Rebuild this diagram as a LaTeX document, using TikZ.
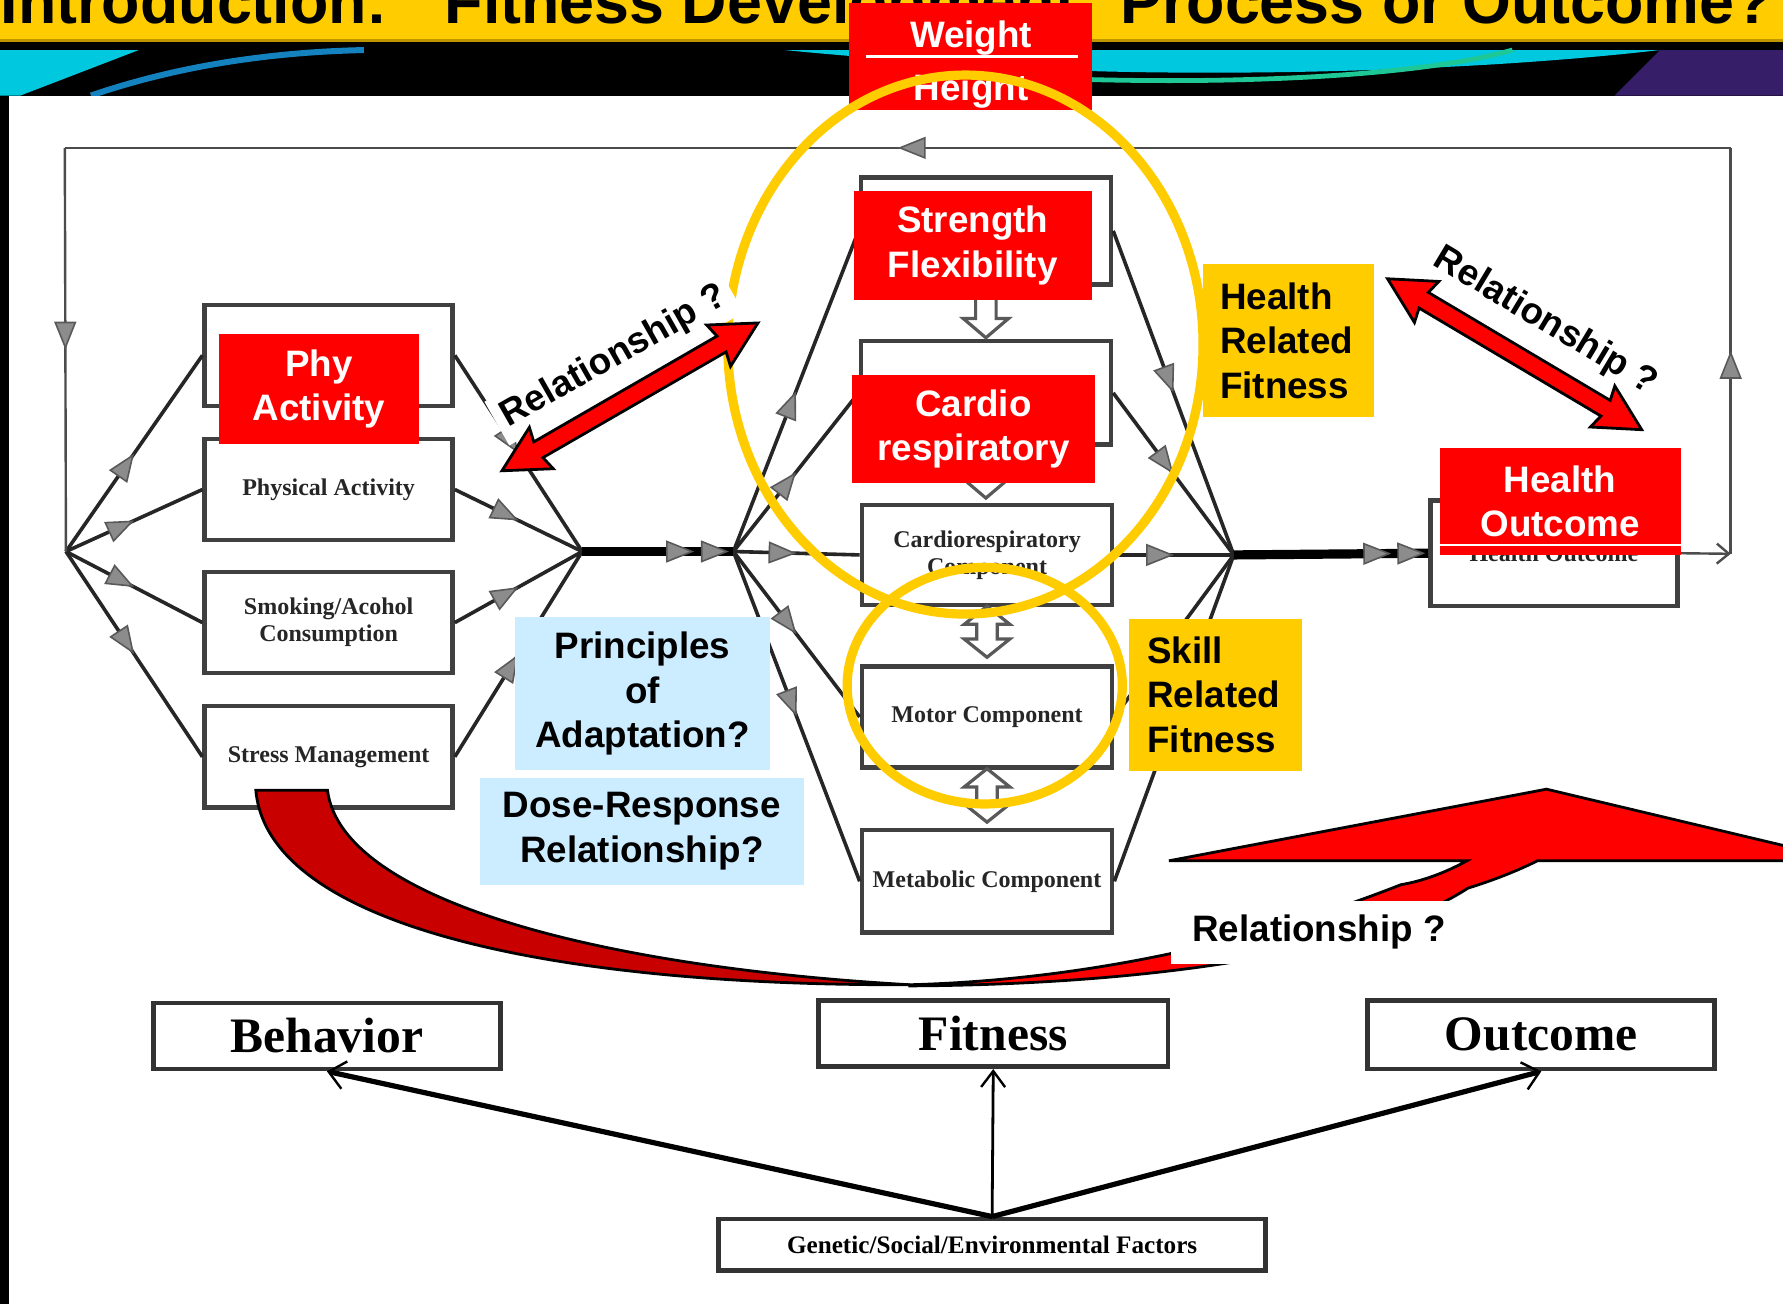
\documentclass[tikz,border=0pt]{standalone}
\usepackage{fontspec}
\setmainfont{Liberation Serif}
\setsansfont{Liberation Sans}
\usetikzlibrary{arrows.meta,decorations.markings}

\definecolor{pptred}{RGB}{255,0,0}
\definecolor{darkred}{RGB}{200,0,0}
\definecolor{pptyellow}{RGB}{255,204,0}
\definecolor{pptblue}{RGB}{204,236,255}
\definecolor{bgcyan}{RGB}{0,200,222}
\definecolor{bgteal}{RGB}{20,130,190}
\definecolor{bggreen}{RGB}{30,200,150}
\definecolor{bgpurple}{RGB}{55,30,105}
\definecolor{bandline}{RGB}{190,150,0}

% hollow block arrows between the fitness components
\newcommand{\hollowdown}[3]{%
  \draw[hollow] (#1-9,#2) -- (#1+9,#2) -- (#1+9,#3-17) -- (#1+20,#3-17) -- (#1,#3)
    -- (#1-20,#3-17) -- (#1-9,#3-17) -- cycle;}
\newcommand{\hollowboth}[3]{%
  \draw[hollow] (#1,#2) -- (#1+20,#2+16) -- (#1+9,#2+16) -- (#1+9,#3-16) -- (#1+20,#3-16)
    -- (#1,#3) -- (#1-20,#3-16) -- (#1-9,#3-16) -- (#1-9,#2+16) -- (#1-20,#2+16) -- cycle;}
% red double block arrow: centre x, centre y, angle
\newcommand{\blockarrow}[3]{%
  \begin{scope}[shift={(#1,#2)}, rotate=#3]
    \draw[fill=pptred, line width=0.7pt, line join=miter]
      (-130,0) -- (-90,-21) -- (-93,-8) -- (93,-8) -- (90,-21) -- (130,0)
      -- (90,21) -- (93,8) -- (-93,8) -- (-90,21) -- cycle;
  \end{scope}}

\begin{document}
\begin{tikzpicture}[x=0.01cm, y=-0.01cm,
    lbl/.style={font=\sffamily\bfseries\fontsize{9.2}{11.1}\selectfont, align=center, inner sep=0pt},
    redlbl/.style={lbl, fill=pptred, text=white},
    yellbl/.style={lbl, fill=pptyellow, align=left},
    bluelbl/.style={lbl, fill=pptblue},
    scanbox/.style={draw=black!75, line width=1.1pt, fill=white, text=black!85, align=center,
      inner sep=0pt, font=\bfseries\fontsize{6}{6.8}\selectfont,
      minimum width=2.18cm, minimum height=0.89cm},
    bigbox/.style={draw=black!80, line width=1.2pt, fill=white, inner sep=0pt,
      font=\bfseries\fontsize{12.4}{14}\selectfont, minimum width=3.05cm, minimum height=0.58cm},
    link/.style={line width=0.9pt, black!85},
    trunk/.style={line width=2.3pt, black},
    loopline/.style={line width=0.6pt, black!70},
    hollow/.style={fill=white, draw=black!65, line width=0.8pt},
    ring/.style={draw=pptyellow, line width=2.3pt},
    graytip/.tip={Triangle[length=7pt, width=5.5pt, fill=black!45, color=black!65, line width=0.4pt]},
    midtip/.style={postaction={decorate, decoration={markings,
      mark=at position #1 with {\arrow{graytip}}}}},
    twotips/.style 2 args={postaction={decorate, decoration={markings,
      mark=at position #1 with {\arrow{graytip}},
      mark=at position #2 with {\arrow{graytip}}}}},
  ]
  \useasboundingbox (0,0) rectangle (1568,1147);
  \clip (0,0) rectangle (1568,1147);

  % Slide background
  \fill[pptyellow] (0,0) rectangle (1568,36);
  \fill[bandline] (0,34) rectangle (1568,37);
  \fill[black] (0,37) rectangle (1568,84);
  \fill[bgpurple] (1460,44) -- (1568,44) -- (1568,84) -- (1420,84) -- cycle;
  \fill[bgcyan] (0,44) -- (122,44) -- (18,84) -- (0,84) -- cycle;
  \draw[bgteal, line width=1.5pt] (80,84) .. controls (150,60) and (230,46) .. (320,44);
  \fill[bgcyan] (690,44) -- (1460,44) .. controls (1250,68) and (1000,66) .. (900,60)
    .. controls (800,54) and (730,48) .. (690,44) -- cycle;
  \draw[bggreen, line width=1.2pt] (960,70) .. controls (1120,74) and (1260,64) .. (1330,44);
  \fill[black] (0,84) rectangle (8,1147);
  \fill[white] (8,84) rectangle (1568,1147);

  % Title
  \node[font=\sffamily\bfseries\fontsize{15.7}{18}\selectfont, anchor=base west, inner sep=0pt]
    (title) at (0,21) {Introduction:\hspace{0.5cm}Fitness Development: Process or Outcome?};

  % Junctions
  \coordinate (fan) at (58,485);
  \coordinate (jA) at (512,485);
  \coordinate (jB) at (645,485);
  \coordinate (jC) at (1085,488);
  \coordinate (rb) at (1522,487);
  \coordinate (rt) at (1522,130);
  \coordinate (lt) at (57,130);

  % Scanned model boxes
  \node[scanbox] (blank) at (289,312.5) {};
  \node[scanbox] (physical) at (289,430.5) {Physical Activity};
  \node[scanbox] (smoking) at (289,547.5) {Smoking/Acohol\\Consumption};
  \node[scanbox] (stress) at (289,665.5) {Stress Management};
  \node[scanbox, minimum width=2.2cm, minimum height=0.94cm] (strbox) at (867,203) {};
  \node[scanbox, minimum width=2.2cm, minimum height=0.91cm] (flexbox) at (867,345.5) {};
  \node[scanbox, minimum width=2.2cm, minimum height=0.88cm] (cardbox) at (868,488) {Cardiorespiratory\\Component};
  \node[scanbox, minimum width=2.2cm] (motor) at (868,630.5) {Motor Component};
  \node[scanbox, minimum width=2.2cm, minimum height=0.9cm] (metab) at (868,775) {Metabolic Component};
  \node[scanbox, minimum width=2.17cm, minimum height=0.93cm] (outbox) at (1366.5,486.5) {Health Outcome};

  % Connectors
  \foreach \b in {blank,physical,smoking,stress} {
    \draw[link, midtip=0.5] (fan) -- (\b.west);
    \draw[link, midtip=0.5] (\b.east) -- (jA);
  }
  \foreach \b in {strbox,flexbox,cardbox,motor,metab} {
    \draw[link, midtip=0.5] (jB) -- (\b.west);
    \draw[link, midtip=0.5] (\b.east) -- (jC);
  }
  \draw[trunk, twotips={0.74}{0.97}] (jA) -- (jB);
  \draw[trunk, twotips={0.81}{0.985}] (jC) -- (outbox.west);

  % Feedback loop
  \draw[loopline, -{Straight Barb[length=3pt, width=5pt]}] (outbox.east) -- (rb);
  \draw[loopline, midtip=0.5] (rb) -- (rt);
  \draw[loopline, midtip=0.5] (rt) -- (lt);
  \draw[loopline, midtip=0.5] (lt) -- (fan);

  % Hollow arrows
  \hollowdown{867}{251}{297}
  \hollowdown{867}{392}{438}
  \hollowboth{868}{533}{578}
  \hollowboth{868}{676}{723}

  % Slide labels
  \node[redlbl, minimum width=1.75cm, minimum height=0.96cm] (phy) at (280.5,342) {Phy\\Activity};
  \node[redlbl, minimum width=2.09cm, minimum height=0.96cm] (strength) at (855.5,216) {Strength\\Flexibility};
  \node[redlbl, minimum width=2.14cm, minimum height=0.95cm] (cardio) at (856,377.5) {Cardio\\respiratory};
  \node[yellbl, minimum width=1.5cm, minimum height=1.35cm, text width=1.2cm] (hrf) at (1133,299.5) {Health\\Related\\Fitness};
  \node[yellbl, minimum width=1.52cm, minimum height=1.34cm, text width=1.2cm] (srf) at (1069,611) {Skill\\Related\\Fitness};
  \node[redlbl, minimum width=2.12cm, minimum height=0.94cm] (hout) at (1372,441) {Health\\Outcome};
  \draw[white, line width=0.5pt] ([yshift=-0.38cm]hout.west) -- ([yshift=-0.38cm]hout.east);
  \node[bluelbl, minimum width=2.24cm, minimum height=1.34cm] (princ) at (565,610) {Principles\\of\\Adaptation?};
  \node[bluelbl, minimum width=2.85cm, minimum height=0.94cm] (dose) at (564.5,731) {Dose-Response\\Relationship?};

  % Weight / Height
  \node[redlbl, minimum width=2.13cm, minimum height=0.94cm] (weight) at (853.5,50) {};
  \node[lbl, text=white, anchor=base] (wtxt) at (854,42) {Weight};
  \node[lbl, text=white, anchor=base] (htxt) at (854,88) {Height};
  \draw[white, line width=0.7pt] ([xshift=0.15cm]weight.west) -- ([xshift=-0.13cm]weight.east);

  % Yellow rings
  \draw[ring] (849,303) ellipse [x radius=209, y radius=237];
  \draw[ring] (866,603) ellipse [x radius=121, y radius=104];

  % Relationship arrows
  \node[lbl, fill=white, inner sep=2pt, rotate=29.6] (relleft) at (540,314) {Relationship ?};
  \node[lbl, fill=white, inner sep=2pt, rotate=-31] (relright) at (1359,283) {Relationship ?};
  \blockarrow{554}{349}{30}
  \blockarrow{1332}{311.5}{-30.7}

  % Curved arrow
  \draw[fill=darkred, line width=0.7pt] (225,695) -- (288,695)
    .. controls (300,790) and (520,850) .. (800,866)
    .. controls (470,867) and (235,810) .. (225,695) -- cycle;
  \draw[fill=pptred, line width=0.7pt, line join=miter] (800,867)
    .. controls (1000,866) and (1200,840) .. (1291,781)
    .. controls (1320,772) and (1340,763) .. (1352,757) -- (1625,757) -- (1360,694)
    -- (1028,757) -- (1290,757) .. controls (1270,768) and (1250,775) .. (1232,778)
    .. controls (1100,830) and (950,862) .. (800,866) -- cycle;
  \node[lbl, fill=white, minimum width=2.6cm, minimum height=0.56cm] (relbottom) at (1160,820) {Relationship ?};

  % Behavior - Fitness - Outcome
  \node[bigbox] (behavior) at (287.5,911) {Behavior};
  \node[bigbox, minimum width=3.07cm] (fitness) at (873.5,909) {Fitness};
  \node[bigbox, minimum height=0.6cm] (outcome) at (1355.5,910) {Outcome};
  \node[bigbox, minimum width=4.81cm, minimum height=0.45cm, font=\bfseries\fontsize{6.3}{7}\selectfont]
    (genetic) at (872.5,1094.5) {Genetic/Social/Environmental Factors};
  \draw[line width=1.3pt, -{Straight Barb[length=4pt, width=7pt, line width=0.6pt]}] (genetic.north) -- (behavior.south);
  \draw[line width=0.7pt, -{Straight Barb[length=4pt, width=6pt, line width=0.6pt]}] (genetic.north) -- (fitness.south);
  \draw[line width=1.3pt, -{Straight Barb[length=4pt, width=7pt, line width=0.6pt]}] (genetic.north) -- (outcome.south);
\end{tikzpicture}
\end{document}
